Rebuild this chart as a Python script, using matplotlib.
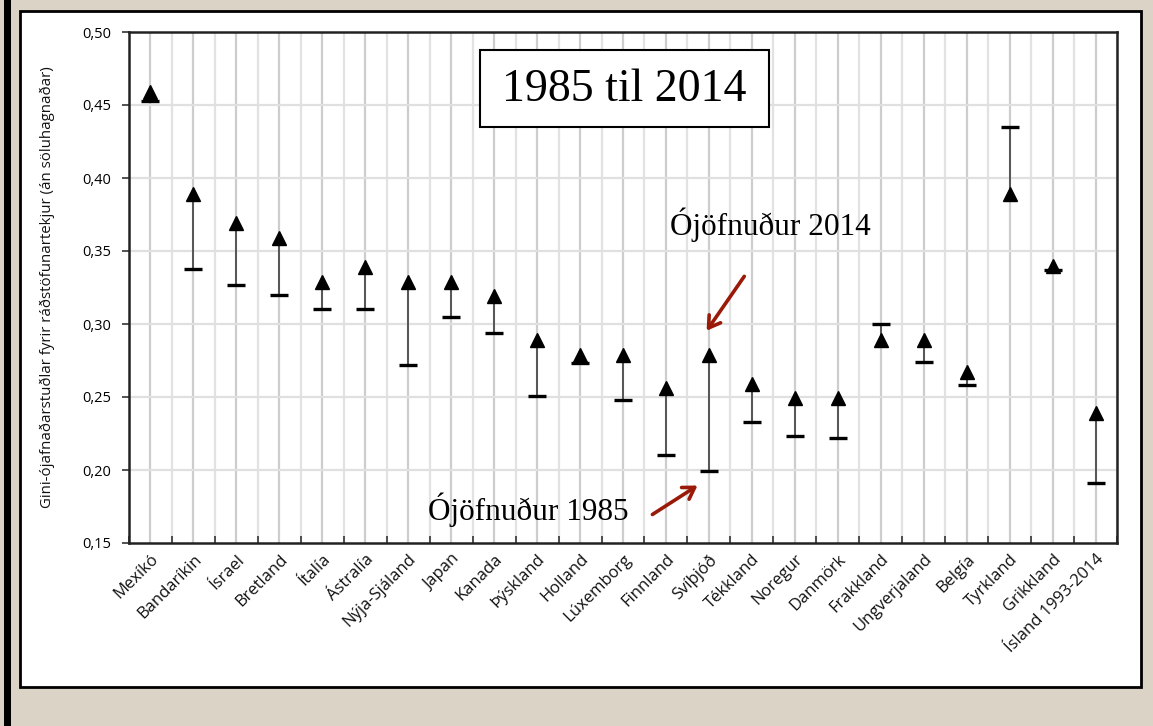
import matplotlib.pyplot as plt
from matplotlib.patches import Rectangle
from matplotlib.ticker import FixedLocator, FuncFormatter

# Gini-stuðlar 1985 og 2014 eftir löndum
countries = ["Mexíkó", "Bandaríkin", "Ísrael", "Bretland", "Ítalía", "Ástralía",
             "Nýja-Sjáland", "Japan", "Kanada", "Þýskland", "Holland", "Lúxemborg",
             "Finnland", "Svíþjóð", "Tékkland", "Noregur", "Danmörk", "Frakkland",
             "Ungverjaland", "Belgía", "Tyrkland", "Grikkland", "Ísland 1993-2014"]
gini_1985 = [0.453, 0.338, 0.327, 0.320, 0.310, 0.310, 0.272, 0.305, 0.294, 0.251,
             0.273, 0.248, 0.210, 0.199, 0.233, 0.223, 0.222, 0.300, 0.274, 0.258,
             0.435, 0.337, 0.191]
gini_2014 = [0.459, 0.389, 0.369, 0.359, 0.329, 0.339, 0.329, 0.329, 0.319, 0.289,
             0.279, 0.279, 0.256, 0.279, 0.259, 0.249, 0.249, 0.289, 0.289, 0.267,
             0.389, 0.340, 0.239]
y_ticks = [0.15, 0.20, 0.25, 0.30, 0.35, 0.40, 0.45, 0.50]

W, H = 1153, 726
fig = plt.figure(figsize=(W / 100, H / 100), dpi=100, facecolor="#dbd3c5")

# bakgrunnur: svört rönd og hvítur rammi
fig.add_artist(Rectangle((4 / W, 0), 7 / W, 1, transform=fig.transFigure,
                         fc="black", ec="none", zorder=-2))
fig.add_artist(Rectangle((20 / W, 1 - 687 / H), 1121 / W, 676 / H, transform=fig.transFigure,
                         fc="white", ec="black", lw=2, zorder=-1))

ax = fig.add_axes([129 / W, 1 - 543 / H, 988 / W, 511 / H])
ax.set_facecolor("white")
n = len(countries)
x = list(range(n))

ax.set_xlim(-0.5, n - 0.5)
ax.set_ylim(0.15, 0.50)

# rúðunet
for i in range(n + 1):
    ax.axvline(i - 0.5, color="#e2e2e2", lw=1.6, zorder=0)
for i in x:
    ax.axvline(i, color="#cdcdcd", lw=1.6, zorder=0)
for v in y_ticks[1:-1]:
    ax.axhline(v, color="#e0e0e0", lw=1.6, zorder=0)

ax.vlines(x, gini_1985, gini_2014, color="#555555", lw=1.4, zorder=2)
ax.plot(x, gini_1985, ls="none", marker="_", ms=13, mew=2.4, color="black", zorder=3)
ax.plot(x, gini_2014, ls="none", marker="^", ms=10, color="black", zorder=4)

ax.set_xticks(x)
ax.set_xticklabels(countries, rotation=45, ha="right", rotation_mode="anchor",
                   fontsize=12, family="Open Sans", color="#111111")
ax.xaxis.set_minor_locator(FixedLocator([i - 0.5 for i in range(n + 1)]))
ax.tick_params(axis="x", which="major", length=0, pad=6)
ax.tick_params(axis="x", which="minor", direction="in", length=5, width=1.2, color="#333333")

ax.set_yticks(y_ticks)
ax.yaxis.set_major_formatter(FuncFormatter(lambda v, p: f"{v:.2f}".replace(".", ",")))
ax.tick_params(axis="y", direction="out", length=5, width=1.2, color="#333333",
               labelsize=10.5, pad=8)
for lab in ax.get_yticklabels():
    lab.set_family("Open Sans")

for s in ax.spines.values():
    s.set_linewidth(1.8)
    s.set_color("#222222")

fig.text(47 / W, 1 - 287 / H,
         "Gini-ójafnaðarstuðlar fyrir ráðstöfunartekjur (án söluhagnaðar)",
         rotation=90, ha="center", va="center", fontsize=10.8, family="Open Sans",
         color="#111111")

# titilkassi
fig.add_artist(Rectangle((480 / W, 1 - 127 / H), 289 / W, 77 / H, transform=fig.transFigure,
                         fc="white", ec="black", lw=1.5, zorder=5))
fig.text(624.5 / W, 1 - 90 / H, "1985 til 2014", ha="center", va="center",
         fontsize=33, family="Liberation Serif", zorder=6)

# skýringar með örvum
red = "#9a1a0a"
ax.text(12.09, 0.3678, "Ójöfnuður 2014", ha="left", va="center", fontsize=22.5,
        family="Liberation Serif", zorder=6)
ax.text(6.46, 0.1726, "Ójöfnuður 1985", ha="left", va="center", fontsize=22.5,
        family="Liberation Serif", zorder=6)
ax.annotate("", xy=(12.91, 0.2938), xytext=(13.86, 0.3342),
            arrowprops=dict(arrowstyle="->,head_length=0.8,head_width=0.5", color=red, lw=2.6),
            zorder=6)
ax.annotate("", xy=(12.79, 0.1904), xytext=(11.63, 0.1685),
            arrowprops=dict(arrowstyle="->,head_length=0.8,head_width=0.5", color=red, lw=2.6),
            zorder=6)

fig.savefig("out.png", dpi=100, facecolor=fig.get_facecolor())
